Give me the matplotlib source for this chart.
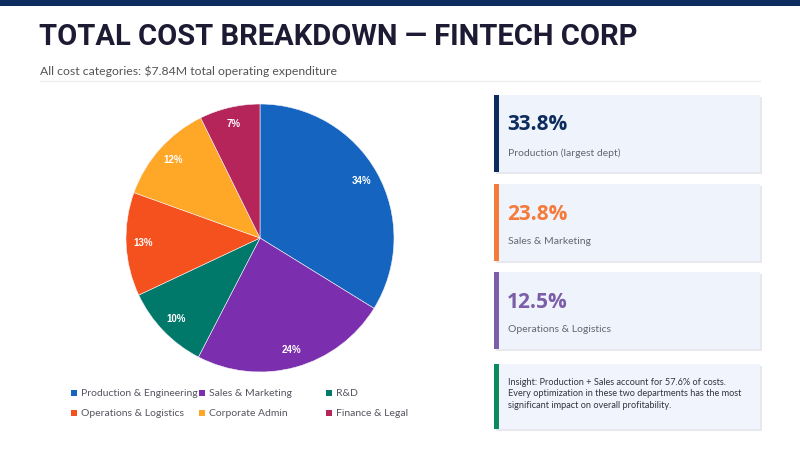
import matplotlib
matplotlib.use("Agg")
import matplotlib.pyplot as plt
from matplotlib.patches import Rectangle

categories = ["Production & Engineering", "Sales & Marketing", "R&D",
              "Operations & Logistics", "Corporate Admin", "Finance & Legal"]
shares = [33.8, 23.8, 10.4, 12.5, 12.2, 7.3]
colors = ["#1565C0", "#7B2FAE", "#00796B", "#F4511E", "#FFA726", "#B5255A"]

card_values = ["33.8%", "23.8%", "12.5%"]
card_labels = ["Production (largest dept)", "Sales & Marketing", "Operations & Logistics"]
card_colors = ["#0D2C5E", "#F47B3A", "#7B5EA7"]
insight = ("Insight: Production + Sales account for 57.6% of costs.\n"
           "Every optimization in these two departments has the most\n"
           "significant impact on overall profitability.")

W, H = 800, 450
fig = plt.figure(figsize=(8, 4.5), dpi=100)
bg = fig.add_axes([0, 0, 1, 1])
bg.set_xlim(0, W)
bg.set_ylim(H, 0)
bg.axis("off")

# top band + header
bg.add_patch(Rectangle((0, 0), W, 6, color="#0D2C5E", lw=0))
bg.text(39, 37, "TOTAL COST BREAKDOWN \u2014 FINTECH CORP", fontsize=21, fontweight="bold",
        family="Roboto", color="#1C1B33", va="center")
bg.text(40, 71, "All cost categories: $7.84M total operating expenditure", fontsize=8.8,
        family="Lato", color="#555555", va="center")
bg.plot([40, 760], [81, 81], color="#EEEEF2", lw=1)

# kpi cards
tops = [95, 184, 272]
for i in range(3):
    y0 = tops[i]
    bg.add_patch(Rectangle((496, y0 + 2), 266, 77, color="#E6E8EE", lw=0))
    bg.add_patch(Rectangle((494, y0), 266, 77, color="#EFF3FC", lw=0))
    bg.add_patch(Rectangle((494, y0), 5, 77, color=card_colors[i], lw=0))
    bg.text(507, y0 + 30, card_values[i], fontsize=15, fontweight="bold", family="Open Sans",
            color=card_colors[i], va="center")
    bg.text(508, y0 + 58, card_labels[i], fontsize=7.5, family="Lato", color="#666670", va="center")

bg.add_patch(Rectangle((496, 366), 266, 65, color="#E6E8EE", lw=0))
bg.add_patch(Rectangle((494, 364), 266, 65, color="#F1F4FC", lw=0))
bg.add_patch(Rectangle((494, 364), 5, 65, color="#0B8A5E", lw=0))
bg.text(508, 394, insight, fontsize=6.6, family="Lato", color="#333340", va="center",
        linespacing=1.3)

# pie
cx, cy, r = 260, 238, 134
pax = fig.add_axes([(cx - r) / W, (H - cy - r) / H, 2 * r / W, 2 * r / H])
wedges, texts = pax.pie(shares, colors=colors, startangle=90, counterclock=False,
                        labels=[f"{int(s + 0.5)}%" for s in shares], labeldistance=0.87,
                        wedgeprops=dict(linewidth=0.4, edgecolor="#f4f4f8"))
for t in texts:
    t.set_color("white")
    t.set_fontsize(7)
    t.set_fontweight("bold")
    t.set_family("Liberation Sans")
    t.set_ha("center")
pax.set_xlim(-1, 1)
pax.set_ylim(-1, 1)
pax.set_aspect("equal")

# legend
lx = [72, 200, 327]
ly = [393, 413]
for i, name in enumerate(categories):
    x = lx[i % 3]
    y = ly[i // 3]
    bg.add_patch(Rectangle((x - 1, y - 3), 6, 6, color=colors[i], lw=0))
    bg.text(x + 9, y, name, fontsize=7.5, family="Lato", color="#555560", va="center")

fig.savefig("out.png", dpi=100)
